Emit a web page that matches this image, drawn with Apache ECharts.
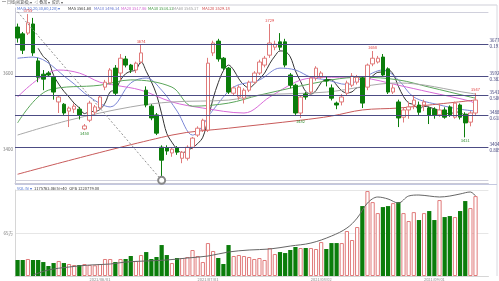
<!DOCTYPE html>
<html><head><meta charset="utf-8">
<script src="https://cdn.jsdelivr.net/npm/echarts@6/dist/echarts.min.js"></script>
<style>html,body{margin:0;padding:0;background:#fff}#c{width:499px;height:281px}</style>
</head><body><div id="c"></div>
<script>
// ---- categories (trading days) ----
const dates = [
'2021/05/10','2021/05/11','2021/05/12','2021/05/13','2021/05/14','2021/05/17','2021/05/18','2021/05/19','2021/05/20','2021/05/21',
'2021/05/24','2021/05/25','2021/05/26','2021/05/27','2021/05/28','2021/05/31',
'2021/06/01','2021/06/02','2021/06/03','2021/06/04','2021/06/07','2021/06/08','2021/06/09','2021/06/10','2021/06/11','2021/06/15',
'2021/06/16','2021/06/17','2021/06/18','2021/06/21','2021/06/22','2021/06/23','2021/06/24','2021/06/25','2021/06/28','2021/06/29','2021/06/30',
'2021/07/01','2021/07/02','2021/07/05','2021/07/06','2021/07/07','2021/07/08','2021/07/09','2021/07/12','2021/07/13','2021/07/14',
'2021/07/15','2021/07/16','2021/07/19','2021/07/20','2021/07/21','2021/07/22','2021/07/23','2021/07/26','2021/07/27','2021/07/28','2021/07/29','2021/07/30',
'2021/08/02','2021/08/03','2021/08/04','2021/08/05','2021/08/06','2021/08/09','2021/08/10','2021/08/11','2021/08/12','2021/08/13',
'2021/08/16','2021/08/17','2021/08/18','2021/08/19','2021/08/20','2021/08/23','2021/08/24','2021/08/25','2021/08/26','2021/08/27','2021/08/30','2021/08/31',
'2021/09/01','2021/09/02','2021/09/03','2021/09/06','2021/09/07','2021/09/08','2021/09/09','2021/09/10','2021/09/13',
'2021/09/14','2021/09/15'
];
// ---- OHLC ----
const opens  = [3721,3703,3705,3729,3632,3597,3600,3589,3524,3518,3500,3505,3505,3453,3476,3497,3508,3563,3574,3613,
                3600,3637,3621,3608,3629,3555,3513,3490,3405,3403,3390,3403,3376,3376,3405,3437,3450,3450,3653,3684,
                3639,3613,3547,3537,3534,3555,3576,3600,3621,3647,3668,3682,3682,3595,3568,3495,3545,3550,3587,3589,
                3582,3561,3521,3524,3547,3568,3576,3587,3563,3624,3629,3642,3611,3550,3524,3484,3503,3516,3516,3516,
                3508,3505,3490,3503,3511,3484,3516,3492,3471,3495];
const closes = [3692,3660,3732,3653,3589,3584,3595,3550,3537,3495,3508,3513,3490,3461,3521,3511,3537,3576,3608,3547,
                3639,3621,3608,3626,3653,3516,3482,3442,3371,3395,3400,3392,3392,3405,3429,3455,3476,3626,3679,3637,
                3613,3550,3561,3563,3555,3576,3600,3629,3639,3679,3676,3668,3621,3568,3495,3537,3537,3587,3613,3600,
                3579,3534,3516,3537,3574,3592,3589,3521,3621,3639,3639,3595,3550,3561,3482,3503,3511,3529,3497,3524,
                3490,3490,3503,3484,3490,3521,3484,3469,3495,3529];
const lows   = [3680,3650,3700,3645,3576,3555,3590,3530,3495,3490,3458,3495,3478,3450,3471,3490,3503,3555,3570,3540,
                3580,3615,3600,3600,3624,3510,3476,3437,3318,3385,3380,3385,3363,3370,3400,3432,3445,3445,3645,3630,
                3608,3545,3540,3530,3520,3550,3572,3595,3615,3640,3660,3660,3615,3560,3490,3482,3530,3545,3580,3585,
                3565,3528,3505,3515,3540,3563,3570,3508,3555,3618,3625,3590,3545,3545,3458,3470,3480,3505,3490,3500,
                3466,3480,3485,3480,3485,3480,3478,3431,3460,3490];
const highs  = [3730,3708,3755,3745,3640,3608,3605,3592,3542,3521,3512,3520,3511,3466,3527,3516,3540,3582,3613,3621,
                3650,3645,3624,3630,3674,3565,3518,3495,3410,3410,3405,3408,3395,3410,3432,3460,3480,3640,3685,3690,
                3642,3616,3565,3568,3560,3580,3605,3635,3645,3729,3685,3705,3690,3600,3572,3542,3550,3592,3618,3605,
                3590,3570,3525,3545,3580,3600,3595,3592,3625,3658,3645,3650,3615,3570,3530,3510,3525,3540,3525,3530,
                3512,3510,3520,3510,3515,3525,3520,3497,3500,3547];
// ---- volume ----
const volumes = [242000,242000,257000,242000,242000,211000,151000,196000,227000,196000,181000,166000,166000,181000,166000,162000,181000,257000,257000,211000,
                 257000,257000,302000,227000,317000,362000,257000,287000,468000,317000,196000,272000,272000,287000,393000,302000,211000,498000,378000,272000,
                 181000,468000,302000,317000,302000,287000,257000,272000,242000,423000,332000,362000,347000,393000,438000,423000,423000,423000,408000,513000,
                 408000,498000,498000,498000,680000,544000,740000,1057000,1284000,1117000,951000,1042000,1057000,1102000,1117000,951000,831000,966000,846000,951000,
                 982000,846000,1148000,891000,906000,891000,982000,1133000,1027000,1208000];
// ---- moving averages: [index, value] ----
const ma10Pts  = [[0,3639],[3,3642],[10,3582],[14,3537],[18,3511],[22,3574],[25,3587],[28,3555],[31,3500],[34,3437],[38,3503],[42,3563],[47,3582],[51,3613],[54,3608],[57,3589],[60,3582],[64,3570],[67,3587],[71,3608],[74,3582],[77,3537],[82,3516],[86,3505],[89,3500]];
const ma20Pts  = [[0,3537],[8,3608],[12,3600],[16,3576],[19,3568],[24,3555],[30,3524],[36,3508],[44,3495],[49,3537],[54,3576],[57,3587],[61,3589],[67,3587],[74,3568],[80,3550],[88,3526],[89,3518]];
const ma30Pts  = [[0,3469],[6,3555],[16,3568],[22,3582],[30,3563],[34,3513],[41,3521],[47,3542],[61,3582],[67,3589],[74,3582],[80,3563],[88,3537],[89,3534]];
const ma60Pts  = [[0,3437],[10,3476],[22,3511],[30,3524],[41,3529],[47,3542],[60,3550],[74,3574],[88,3547],[89,3545]];
const ma120Pts = [[0,3334],[30,3437],[41,3455],[55,3476],[61,3487],[67,3503],[74,3508],[80,3516],[89,3529]];
const volMaPts = [[3,15000],[6,91000],[10,136000],[14,166000],[18,181000],[21,211000],[25,227000],[29,242000],[33,272000],[37,302000],[41,363000],[45,393000],[49,408000],[53,453000],[57,498000],[61,604000],[64,725000],[66,876000],[68,1103000],[70,1194000],[72,1164000],[74,1103000],[76,1209000],[78,1224000],[80,1209000],[82,1194000],[84,1209000],[86,1240000],[88,1270000],[89,1209000]];
// ---- Fibonacci levels, ticks, marks ----
const fibLevels = [3677,3592,3541,3488,3404];
const fibRatios = ['0.191','0.382','0.500','0.618','0.809'];
const fibEnds   = [3761,3318];
const priceTicks = [3400,3600];
const volTick = 650000;
const dateTicks = ['2021/06/01','2021/07/01','2021/08/02','2021/09/01'];
const highMarks = [2,24,49,69,89];
const lowMarks = [13,55,87];
const circleMark = 28;

const UP = '#e07a7a', DOWN = '#0b7d0b';
const ma5 = closes.map((c,i)=> i>=4 ? [i, +(closes.slice(i-4,i+1).reduce((a,b)=>a+b,0)/5).toFixed(2)] : null).filter(Boolean);

const chart = echarts.init(document.getElementById('c'), null, {renderer:'canvas'});
const FS = 4.5, HS = 4, FF = 'Noto Sans CJK SC, sans-serif';
function maLine(name, pts, color){
  return {name, type:'line', xAxisIndex:0, yAxisIndex:0, data:pts, showSymbol:false, smooth:0.35,
    lineStyle:{width:1,color}, silent:true, z:3};
}
const candleData = opens.map((o,i)=>[o, closes[i], lows[i], highs[i]]);
const markLineData = fibLevels.map((v,k)=>({yAxis:v, label:{formatter: v+'\n'+fibRatios[k]}}))
  .concat(fibEnds.map(v=>({yAxis:v, lineStyle:{color:'#d0d0dc',width:1}, label:{show:false}})))
  .concat([[
     {coord:[0, fibEnds[0]], lineStyle:{color:'#909090',type:[2,2],width:1}, label:{show:false}},
     {coord:[circleMark, lows[circleMark]]}]]);

function txt(x, y, text, fill, size){
  return {type:'text', left:x, top:y, silent:true, style:{text, fontSize:size||HS, fill, fontFamily:FF}};
}

const option = {
  animation:false,
  textStyle:{fontFamily:FF},
  grid:[
    {left:15, top:8, width:473.4, height:175},
    {left:15, top:190, width:473.4, height:86}
  ],
  xAxis:[
    {type:'category', gridIndex:0, data:dates, boundaryGap:true,
     axisLine:{lineStyle:{color:'#c9c9d6'}}, axisTick:{show:false}, axisLabel:{show:false}, splitLine:{show:false}},
    {type:'category', gridIndex:1, data:dates, boundaryGap:true,
     axisLine:{lineStyle:{color:'#d6d6d6'}}, axisTick:{show:false},
     axisLabel:{fontSize:HS, color:'#888', margin:1, interval:(i,v)=>dateTicks.includes(v)},
     splitLine:{show:false}}
  ],
  yAxis:[
    {type:'value', gridIndex:0, min:3311, max:3771, position:'left',
     axisLine:{show:true, lineStyle:{color:'#c9c9d6'}}, axisTick:{show:false}, splitLine:{show:false},
     axisLabel:{fontSize:FS, color:'#777', margin:2, formatter:v=>priceTicks.includes(v)?String(v):''}},
    {type:'value', gridIndex:1, min:0, max:volTick*2, interval:volTick,
     axisLine:{show:true, lineStyle:{color:'#d6d6d6'}}, axisTick:{show:false},
     splitLine:{show:true, lineStyle:{color:'#e6e6e6'}},
     axisLabel:{fontSize:FS, color:'#777', margin:2, formatter:v=>v===volTick?'65万':''}}
  ],
  series:[
    {name:'K', type:'candlestick', xAxisIndex:0, yAxisIndex:0, data:candleData, barWidth:'78%',
     itemStyle:{color:'#ffffff', color0:DOWN, borderColor:UP, borderColor0:DOWN, borderWidth:1},
     z:4,
     markPoint:{symbol:'circle', symbolSize:1, silent:true, itemStyle:{color:'rgba(0,0,0,0)'},
       data: highMarks.map(i=>({coord:[i, highs[i]], value:highs[i],
               label:{show:true, position:'top', distance:1, color:'#e03c3c', fontSize:HS, formatter:'{c}'}}))
         .concat(lowMarks.map(i=>({coord:[i, lows[i]], value:lows[i],
               label:{show:true, position:'bottom', distance:1, color:'#2a8a2a', fontSize:HS, formatter:'{c}'}})))
         .concat([{coord:[circleMark, lows[circleMark]], value:lows[circleMark], symbol:'emptyCircle', symbolSize:7,
               itemStyle:{color:'#888', borderColor:'#888', borderWidth:1}, label:{show:false}}])
     },
     markLine:{symbol:'none', silent:true, animation:false,
       lineStyle:{color:'#4c4c84', width:1, type:'solid'},
       label:{position:'end', fontSize:FS, color:'#3c3c78', lineHeight:6, distance:1},
       data: markLineData}
    },
    maLine('MA5', ma5, '#333333'),
    maLine('MA10', ma10Pts, '#7a86d6'),
    maLine('MA20', ma20Pts, '#d86ad8'),
    maLine('MA30', ma30Pts, '#5aa55a'),
    maLine('MA60', ma60Pts, '#a8a8a8'),
    maLine('MA120', ma120Pts, '#c85a5a'),
    {name:'VOL', type:'bar', xAxisIndex:1, yAxisIndex:1, barWidth:'82%',
     data: volumes.map((v,i)=>({value:v, itemStyle: closes[i]>=opens[i]
        ? {color:'#ffffff', borderColor:UP, borderWidth:1}
        : {color:DOWN, borderColor:DOWN, borderWidth:0}}))},
    {name:'VOLMA', type:'line', xAxisIndex:1, yAxisIndex:1, data:volMaPts, showSymbol:false, smooth:0.35,
     lineStyle:{width:1, color:'#666'}, z:5}
  ],
  graphic:[
    {type:'line', silent:true, shape:{x1:15, y1:5, x2:497, y2:5}, style:{stroke:'#cfcfd8', lineWidth:1}},
    {type:'line', silent:true, shape:{x1:497, y1:5, x2:497, y2:276}, style:{stroke:'#d8d8e0', lineWidth:1}},
    {type:'line', silent:true, shape:{x1:15, y1:184.5, x2:497, y2:184.5}, style:{stroke:'#c4c8e0', lineWidth:1}},
    txt(2, 0, '━ 日线(前复权) ▾  ◁ 叠加 ▾  资讯 ▾', '#555'),
    txt(17, 6, 'MA(5,10,20,30,60,120) ▾', '#4a6fd0'),
    txt(68, 6, 'MA5 3561.60', '#333'),
    txt(94, 6, 'MA10 3496.34', '#6a78d0'),
    txt(121, 6, 'MA20 3517.86', '#d060d0'),
    txt(148, 6, 'MA30 3534.33', '#3c963c'),
    txt(173, 6, 'MA60 3545.37', '#a0a0a0'),
    txt(202, 6, 'MA120 3529.18', '#d04848'),
    txt(17, 186, 'VOL(5) ▾', '#4a6fd0'),
    txt(34, 186, '1175763.06(5)+40   OFB 1220779.00', '#333')
  ]
};
chart.setOption(option);
</script></body></html>
